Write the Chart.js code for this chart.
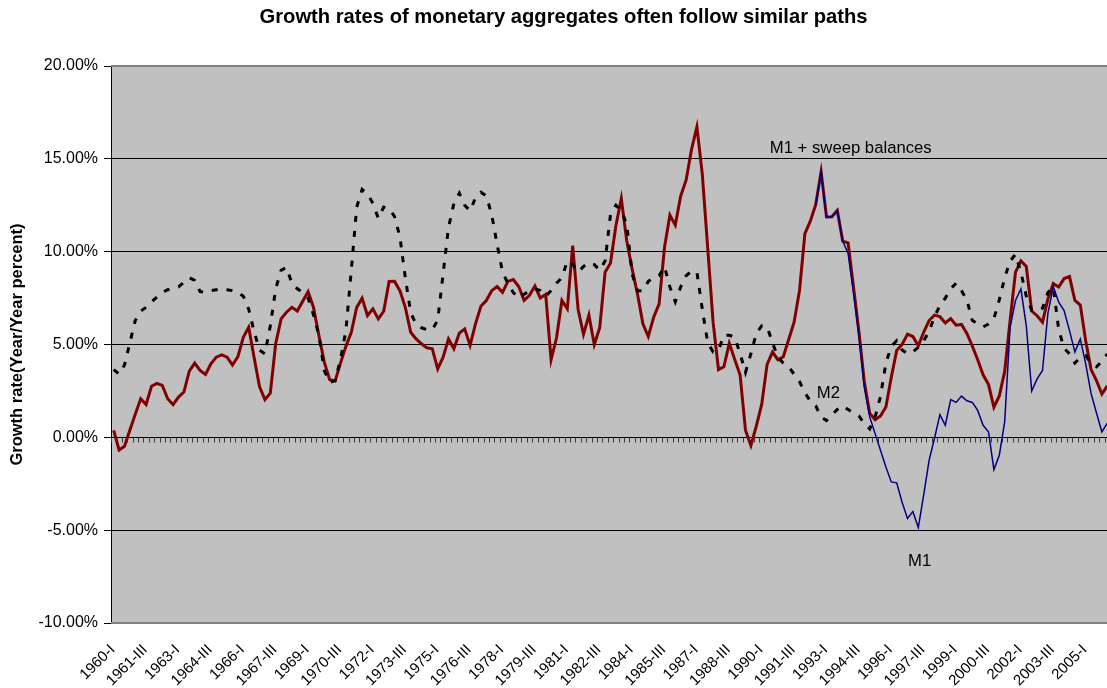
<!DOCTYPE html>
<html>
<head>
<meta charset="utf-8">
<script src="https://cdn.jsdelivr.net/npm/chart.js@4.4.0/dist/chart.umd.min.js"></script>
<style>
html,body{margin:0;padding:0;overflow:hidden;background:#ffffff;}
canvas{display:block;}
</style>
</head>
<body>
<canvas id="c" width="1127" height="688" style="width:1127px;height:688px"></canvas>
<script>
// ---- Data ----
const firstYear = 1960;
const quarterNames = ["I", "II", "III", "IV"];
const quarterCount = 185; // 1960-I .. 2006-I
const categories = [];
for (let k = 0; k < quarterCount; k++) {
  categories.push((firstYear + Math.floor(k / 4)) + "-" + quarterNames[k % 4]);
}
const labelEvery = 6;

const yTicks = [-10, -5, 0, 5, 10, 15, 20];

const m1SweepSeries = [
  0.38,-0.68,-0.48,0.4,1.25,2.08,1.77,2.75,2.9,2.8,
  2.08,1.76,2.17,2.44,3.57,4.0,3.6,3.39,3.96,4.32,
  4.44,4.32,3.89,4.35,5.39,5.93,4.3,2.74,2.03,2.38,
  5.04,6.38,6.74,7.0,6.8,7.33,7.85,7.0,5.48,4.05,
  3.1,3.03,4.0,4.9,5.66,7.0,7.49,6.56,6.92,6.38,
  6.79,8.39,8.4,7.9,7.0,5.66,5.3,5.04,4.82,4.77,
  3.69,4.32,5.3,4.77,5.61,5.84,4.95,6.11,7.06,7.37,
  7.9,8.12,7.81,8.4,8.5,8.12,7.38,7.65,8.15,7.5,
  7.7,4.18,5.35,7.37,6.92,10.32,6.9,5.55,6.58,4.99,
  5.9,8.89,9.39,11.4,12.86,10.6,9.07,7.72,6.11,5.43,
  6.47,7.19,10.23,11.97,11.43,13.0,13.85,15.5,16.72,14.18,
  10.2,6.2,3.65,3.8,5.07,4.2,3.36,0.38,-0.44,0.6,
  1.77,3.93,4.59,4.18,4.34,5.27,6.2,7.9,10.97,11.64,
  12.53,14.3,11.87,11.88,12.22,10.57,10.47,8.1,5.7,3.0,
  1.3,0.95,1.15,1.63,3.24,4.68,5.0,5.56,5.43,4.93,
  5.66,6.29,6.58,6.5,6.16,6.4,6.04,6.08,5.6,4.92,
  4.18,3.37,2.85,1.62,2.23,3.55,6.3,8.9,9.5,9.2,
  6.8,6.55,6.2,7.45,8.28,8.1,8.55,8.66,7.37,7.12,
  5.2,3.65,3.05,2.33,2.77
];

const m2Series = [
  3.65,3.4,3.9,5.1,6.3,6.8,7.0,7.3,7.55,7.8,
  7.95,8.05,8.1,8.35,8.6,8.45,7.85,7.8,7.9,7.95,
  8.0,7.95,7.9,7.8,7.6,6.9,5.7,4.7,4.5,6.0,
  8.0,9.0,9.15,8.3,8.0,7.8,7.5,6.6,5.5,3.6,
  2.95,3.05,4.2,5.75,9.0,12.4,13.35,13.1,12.6,11.8,
  12.4,12.3,11.9,10.8,8.6,6.7,6.1,5.9,5.8,5.8,
  6.3,8.8,11.3,12.6,13.15,12.5,12.2,12.9,13.2,13.0,
  12.0,10.4,8.9,8.3,7.8,7.5,7.7,7.9,8.0,7.9,
  7.6,7.9,8.3,8.6,9.5,9.3,8.9,9.2,9.4,9.3,
  9.0,9.5,12.0,12.5,12.2,11.5,8.8,7.9,7.9,8.4,
  8.6,8.7,9.2,8.1,7.3,8.1,8.7,8.95,8.9,6.9,
  5.1,4.6,4.7,5.5,5.5,5.4,4.5,3.5,4.5,5.6,
  6.0,5.95,5.1,4.3,4.0,3.8,3.4,3.0,2.4,1.95,
  1.7,1.1,0.9,1.2,1.5,1.7,1.5,1.3,1.15,0.75,
  0.45,1.1,2.2,4.0,4.9,5.2,4.7,4.5,4.6,4.85,
  5.2,5.7,6.5,7.1,7.5,8.0,8.3,7.9,7.4,6.3,
  6.1,5.95,6.1,6.4,7.4,8.6,9.5,9.85,8.9,7.6,
  6.85,6.8,6.95,7.8,8.1,5.8,4.8,4.5,4.0,4.3,
  4.4,4.0,3.8,4.1,4.5
];

// M1 only shown where it departs from M1 + sweeps (from 1992-III)
const m1Start = 130;
const m1Values = [
  12.53,14.3,11.87,11.88,12.22,10.57,9.9,7.8,5.5,2.7,
  1.1,0.2,-0.7,-1.6,-2.4,-2.45,-3.5,-4.37,-4.0,-4.86,
  -3.1,-1.24,-0.05,1.22,0.65,2.03,1.88,2.22,1.97,1.88,
  1.45,0.65,0.3,-1.74,-0.97,0.85,5.93,7.37,8.0,6.0,
  2.49,3.15,3.6,6.68,8.12,7.28,6.83,5.75,4.59,5.3,
  3.96,2.35,1.31,0.29,0.77
];
const m1Series = categories.map((_, k) => (k >= m1Start ? m1Values[k - m1Start] : null));

// annotation texts: [text, category index, value]
const annotations = [
  ["M1 + sweep balances", 121.5, 15.54],
  ["M2", 130.2, 2.37],
  ["M1", 147.1, -6.67]
];

const chartTitle = "Growth rates of monetary aggregates often follow similar paths";

const FONT = "'Liberation Sans', Arial, Helvetica, sans-serif";
const PLOT_BG = "#C0C0C0";

const plotBgPlugin = {
  id: "plotBg",
  beforeDraw(chart) {
    const {ctx, chartArea: a} = chart;
    ctx.save();
    ctx.fillStyle = PLOT_BG;
    ctx.fillRect(a.left, a.top, a.right - a.left, a.bottom - a.top);
    // chart title, centred on the whole chart
    ctx.fillStyle = "#000000";
    ctx.font = "bold 20.2px " + FONT;
    ctx.textAlign = "center";
    ctx.textBaseline = "middle";
    ctx.fillText(chartTitle, chart.width / 2, 17.5);
    ctx.restore();
  },
  beforeDatasetsDraw(chart) {
    const {ctx, chartArea: a, scales} = chart;
    const xs = scales.x, ys = scales.y;
    ctx.save();
    // plot border (top, right, bottom)
    ctx.strokeStyle = "#808080";
    ctx.lineWidth = 2;
    ctx.beginPath();
    ctx.moveTo(a.left, a.top); ctx.lineTo(a.right, a.top);
    ctx.lineTo(a.right, a.bottom); ctx.lineTo(a.left, a.bottom);
    ctx.stroke();
    // category axis at zero with small tick marks at category boundaries
    const y0 = Math.round(ys.getPixelForValue(0)) + 0.5;
    ctx.strokeStyle = "#000000";
    ctx.lineWidth = 1;
    ctx.beginPath();
    ctx.moveTo(a.left, y0); ctx.lineTo(a.right, y0);
    ctx.stroke();
    ctx.strokeStyle = "#3a3a3a";
    ctx.beginPath();
    for (let k = 0; k <= categories.length; k++) {
      const px = Math.round(xs.getPixelForValue(k - 0.5)) + 0.5;
      ctx.moveTo(px, y0);
      ctx.lineTo(px, y0 + 5);
    }
    ctx.stroke();
    ctx.restore();
  },
  afterDatasetsDraw(chart) {
    const {ctx, scales} = chart;
    ctx.save();
    ctx.fillStyle = "#000000";
    ctx.font = "16.7px " + FONT;
    ctx.textAlign = "left";
    ctx.textBaseline = "middle";
    annotations.forEach(([t, xi, v]) => {
      ctx.fillText(t, scales.x.getPixelForValue(xi), scales.y.getPixelForValue(v));
    });
    ctx.restore();
  }
};

new Chart(document.getElementById("c"), {
  type: "line",
  data: {
    labels: categories,
    datasets: [
      {
        label: "M1",
        data: m1Series,
        borderColor: "#000080",
        borderWidth: 1.5,
        pointRadius: 0,
        tension: 0,
        order: 0
      },
      {
        label: "M2",
        data: m2Series,
        borderColor: "#000000",
        borderWidth: 3,
        borderDash: [6, 9],
        borderCapStyle: "butt",
        pointRadius: 0,
        tension: 0,
        order: 1
      },
      {
        label: "M1 + sweep balances",
        data: m1SweepSeries,
        borderColor: "#800000",
        borderWidth: 3,
        pointRadius: 0,
        tension: 0,
        order: 2
      }
    ]
  },
  options: {
    responsive: false,
    animation: false,
    events: [],
    layout: {padding: {left: 0, right: 17, top: 66, bottom: 0}},
    plugins: {
      legend: {display: false},
      tooltip: {enabled: false},
      title: {display: false}
    },
    scales: {
      x: {
        type: "category",
        offset: true,
        grid: {display: false, drawTicks: true, tickLength: 18},
        border: {display: false},
        ticks: {
          autoSkip: false,
          maxRotation: 45,
          minRotation: 45,
          padding: 0,
          labelOffset: -1,
          color: "#000000",
          font: {family: FONT, size: 15},
          callback: function (val) {
            return val % labelEvery === 0 ? this.getLabelForValue(val) : "";
          }
        },
        afterFit(scale) { scale.height = 65; }
      },
      y: {
        min: yTicks[0],
        max: yTicks[yTicks.length - 1],
        afterBuildTicks(scale) { scale.ticks = yTicks.map(v => ({value: v})); },
        grid: {
          color: ctx => (ctx.tick && (ctx.tick.value === 20 || ctx.tick.value === -10) ? "#808080" : "#000000"),
          lineWidth: 1,
          drawTicks: true,
          tickLength: 7,
          tickColor: "#000000"
        },
        border: {display: true, color: "#000000", width: 1},
        ticks: {
          padding: 6,
          color: "#000000",
          font: {family: FONT, size: 16},
          callback: v => v.toFixed(2) + "%"
        },
        title: {
          display: true,
          text: "Growth rate(Year/Year percent)",
          color: "#000000",
          font: {family: FONT, size: 16.5, weight: "bold"},
          padding: {top: 8, bottom: 0}
        },
        afterFit(scale) { scale.width = 111; }
      }
    }
  },
  plugins: [plotBgPlugin]
});
</script>
</body>
</html>
